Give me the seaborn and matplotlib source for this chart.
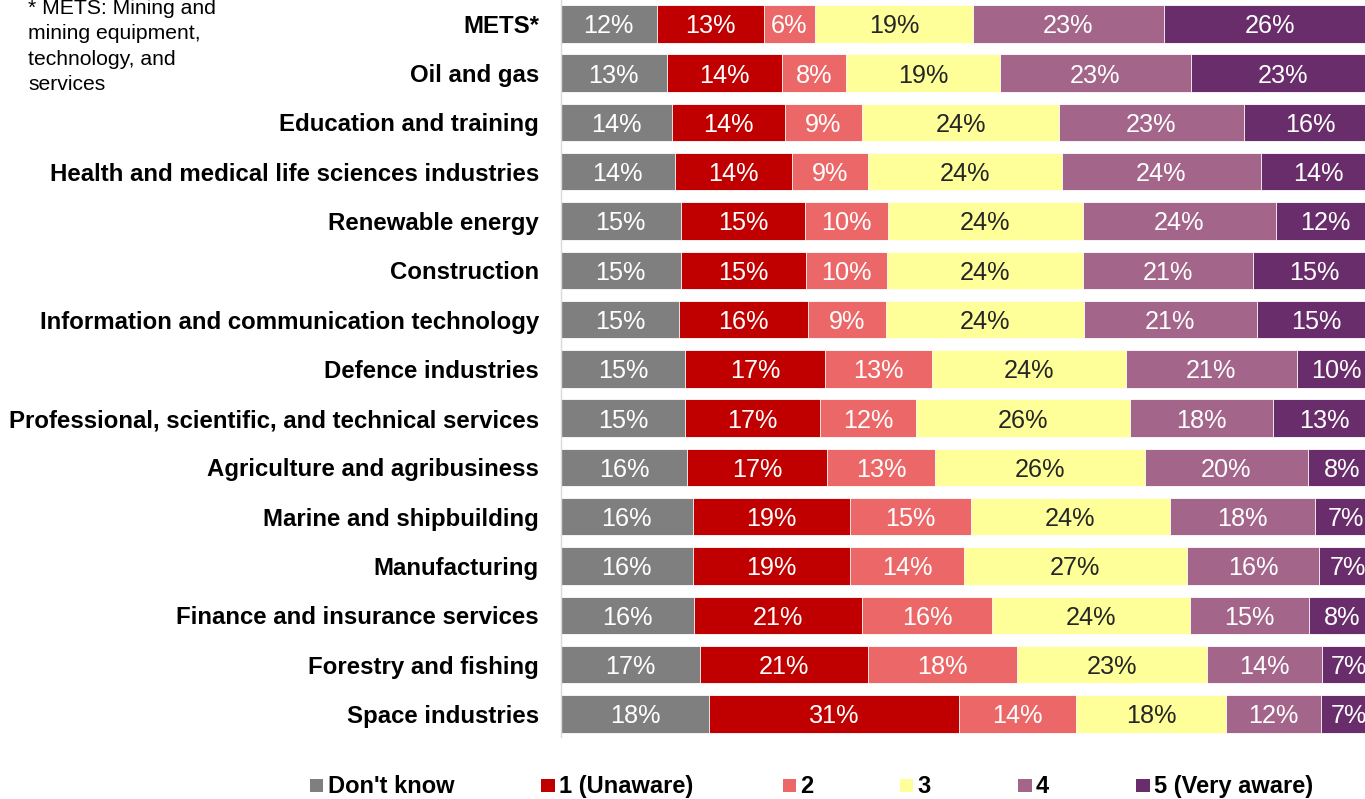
import matplotlib
matplotlib.use("Agg")
import matplotlib.pyplot as plt
from matplotlib.patches import Rectangle
import pandas as pd
import seaborn as sns

# Survey: awareness of each industry, share of respondents per rating (%)
industries = [
    "METS*",
    "Oil and gas",
    "Education and training",
    "Health and medical life sciences industries",
    "Renewable energy",
    "Construction",
    "Information and communication technology",
    "Defence industries",
    "Professional, scientific, and technical services",
    "Agriculture and agribusiness",
    "Marine and shipbuilding",
    "Manufacturing",
    "Finance and insurance services",
    "Forestry and fishing",
    "Space industries",
]
levels = ["Don't know", "1 (Unaware)", "2", "3", "4", "5 (Very aware)"]

dont_know = [11.82, 13.09, 13.66, 13.99, 14.72, 14.72, 14.55, 15.30, 15.30, 15.55, 16.20, 16.20, 16.32, 17.06, 18.25]
unaware = [13.09, 14.02, 13.83, 14.39, 15.28, 15.34, 15.84, 17.09, 16.55, 17.10, 19.30, 19.30, 20.70, 20.61, 30.59]
level_2 = [6.26, 7.89, 9.48, 9.29, 10.12, 9.94, 9.48, 13.17, 11.80, 13.30, 14.81, 13.95, 15.90, 18.28, 14.36]
level_3 = [19.42, 18.86, 24.17, 23.80, 23.93, 24.13, 24.33, 23.77, 26.17, 25.70, 24.42, 27.36, 24.26, 23.35, 18.44]
level_4 = [23.36, 23.40, 22.66, 24.42, 23.64, 20.74, 21.15, 20.98, 17.58, 20.00, 17.79, 16.20, 14.56, 14.10, 11.62]
very_aware = [26.05, 22.74, 16.20, 14.11, 12.31, 15.13, 14.65, 9.69, 12.60, 8.35, 7.48, 6.99, 8.26, 6.60, 6.74]

palette = ["#7F7F7F", "#C00000", "#EC6868", "#FFFF99", "#A3658A", "#692D6B"]
label_colors = ["white", "white", "white", "#262626", "white", "white"]

sns.set_theme(style="white")
plt.rcParams["font.family"] = ["Liberation Sans", "DejaVu Sans"]

W, H = 1365, 799
fig = plt.figure(figsize=(W / 100, H / 100), dpi=100)
ax = fig.add_axes([560.5 / W, 62 / H, 815.5 / W, 737 / H])

shares = pd.DataFrame(
    dict(zip(levels, [dont_know, unaware, level_2, level_3, level_4, very_aware])),
    index=industries,
)
cumulative = shares.cumsum(axis=1)
cumulative.index.name = "industry"
long_cum = cumulative.reset_index()

# Stack by overlaying cumulative bars, widest first
for level, color in reversed(list(zip(levels, palette))):
    sns.barplot(
        data=long_cum, x=level, y="industry", order=industries, orient="h",
        color=color, saturation=1, width=0.76, errorbar=None,
        edgecolor="white", linewidth=0.6, ax=ax,
    )

# Percentage labels centred in each segment
for i, industry in enumerate(industries):
    left = 0.0
    for level, tcolor in zip(levels, label_colors):
        v = shares.loc[industry, level]
        ax.text(left + v / 2, i + 0.19, f"{v:.0f}%", ha="center", va="baseline",
                fontsize=18.2, color=tcolor)
        left += v

ax.set_xlim(0, 100)
ax.set_ylim(14.468, -0.484)
ax.set_xlabel("")
ax.set_ylabel("")
ax.xaxis.set_visible(False)
for side in ["top", "right", "bottom"]:
    ax.spines[side].set_visible(False)
ax.spines["left"].set_color("#D9D9D9")
ax.spines["left"].set_linewidth(1.0)
ax.tick_params(axis="y", length=0, pad=15.5)
for lab in ax.get_yticklabels():
    lab.set_fontsize(17.25)
    lab.set_fontweight("bold")
    lab.set_color("black")

# Footnote
fig.text(28.5 / W, 1 + 1 / H, "* METS: Mining and\nmining equipment,\ntechnology, and\nservices",
         ha="left", va="top", fontsize=15.2, color="black", linespacing=1.43)

# Legend row
legend_left = [309.5, 541.0, 782.5, 899.7, 1018.0, 1136.0]
for lx, level, color in zip(legend_left, levels, palette):
    fig.patches.append(Rectangle((lx / W, (H - 792) / H), 13.5 / W, 13.5 / H,
                                 transform=fig.transFigure, facecolor=color,
                                 edgecolor="none"))
    fig.text((lx + 18) / W, (H - 793) / H, level, ha="left", va="baseline",
             fontsize=17, fontweight="bold", color="black")

fig.savefig("out.png", dpi=100)
